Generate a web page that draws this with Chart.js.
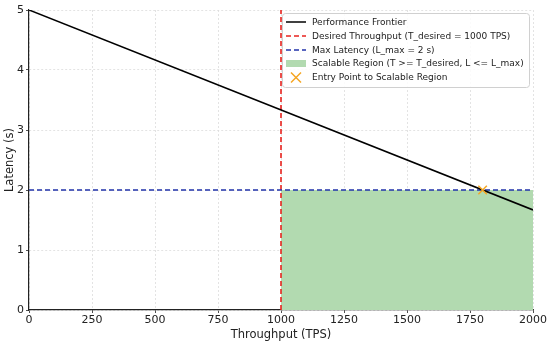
<!DOCTYPE html>
<html>
<head>
<meta charset="utf-8">
<script src="https://cdn.jsdelivr.net/npm/chart.js@4"></script>
<style>
  html, body { margin: 0; padding: 0; background: #fff; }
  #wrap { width: 550px; height: 342px; }
</style>
</head>
<body>
<div id="wrap"><canvas id="chart" width="550" height="342"></canvas></div>
<script>
// data
const frontierX = [0, 2000];
const frontierY = [5, 1.667];
const desiredThroughput = 1000;
const maxLatency = 2;
const entryPoint = [1800, 2];
const xTicks = [0, 250, 500, 750, 1000, 1250, 1500, 1750, 2000];
const yTicks = [0, 1, 2, 3, 4, 5];

const labels = [
    "Performance Frontier",
    "Desired Throughput (T_desired = 1000 TPS)",
    "Max Latency (L_max = 2 s)",
    "Scalable Region (T >= T_desired, L <= L_max)",
    "Entry Point to Scalable Region"
];

const FONT = "'DejaVu Sans', sans-serif";
Chart.defaults.font.family = FONT;
Chart.defaults.color = '#222';

// legend drawn inside the plot, top right
const boxLegend = {
    id: 'boxLegend',
    afterDraw(chart) {
        const ctx = chart.ctx;
        const x0 = 282, y0 = 13, w = 247, h = 74;
        ctx.save();
        ctx.fillStyle = 'rgba(255,255,255,0.85)';
        ctx.strokeStyle = '#d0d0d0';
        ctx.lineWidth = 1;
        ctx.beginPath();
        ctx.roundRect(x0 + 0.5, y0 + 0.5, w, h, 3);
        ctx.fill();
        ctx.stroke();
        ctx.font = '9px ' + FONT;
        ctx.textBaseline = 'middle';
        const rows = [22, 36, 50, 63.5, 77.5];
        chart.data.datasets.forEach((ds, i) => {
            const y = rows[i];
            ctx.setLineDash([]);
            if (ds.legendKind === 'line') {
                ctx.strokeStyle = ds.borderColor;
                ctx.lineWidth = 1.5;
                ctx.setLineDash(ds.borderDash || []);
                ctx.beginPath();
                ctx.moveTo(286, y);
                ctx.lineTo(306, y);
                ctx.stroke();
            } else if (ds.legendKind === 'patch') {
                ctx.fillStyle = ds.backgroundColor;
                ctx.fillRect(286, y - 3.5, 20, 7);
            } else {
                ctx.strokeStyle = ds.pointBorderColor;
                ctx.lineWidth = 1.5;
                ctx.beginPath();
                ctx.moveTo(291, y - 5); ctx.lineTo(301, y + 5);
                ctx.moveTo(301, y - 5); ctx.lineTo(291, y + 5);
                ctx.stroke();
            }
            ctx.fillStyle = '#222';
            ctx.fillText(ds.label, 312, y + 0.5);
        });
        ctx.restore();
    }
};

const data = {
    datasets: [
        {
            label: labels[0],
            legendKind: 'line',
            data: frontierX.map((x, i) => ({ x: x, y: frontierY[i] })),
            borderColor: '#000',
            borderWidth: 1.6,
            pointRadius: 0,
            showLine: true,
            order: 1
        },
        {
            label: labels[1],
            legendKind: 'line',
            data: [{ x: desiredThroughput, y: 0 }, { x: desiredThroughput, y: 5 }],
            borderColor: '#e8231f',
            borderWidth: 1.6,
            borderDash: [5, 3],
            pointRadius: 0,
            showLine: true,
            order: 3
        },
        {
            label: labels[2],
            legendKind: 'line',
            data: [{ x: 0, y: maxLatency }, { x: 2000, y: maxLatency }],
            borderColor: '#2233aa',
            borderWidth: 1.6,
            borderDash: [5, 3],
            pointRadius: 0,
            showLine: true,
            order: 2
        },
        {
            label: labels[3],
            legendKind: 'patch',
            data: [{ x: desiredThroughput, y: maxLatency }, { x: 2000, y: maxLatency }],
            backgroundColor: 'rgb(178,218,176)',
            borderWidth: 0,
            pointRadius: 0,
            showLine: true,
            fill: 'origin',
            order: 4
        },
        {
            label: labels[4],
            legendKind: 'marker',
            data: [{ x: entryPoint[0], y: entryPoint[1] }],
            pointStyle: 'crossRot',
            pointRadius: 6,
            pointBorderWidth: 1.5,
            pointBorderColor: '#f5a623',
            borderColor: '#f5a623',
            showLine: false,
            order: 0
        }
    ]
};

new Chart(document.getElementById('chart'), {
    type: 'scatter',
    data: data,
    plugins: [boxLegend],
    options: {
        responsive: false,
        animation: false,
        layout: { padding: { top: 10, right: 17, left: 3, bottom: 0 } },
        plugins: {
            legend: { display: false },
            tooltip: { enabled: false }
        },
        scales: {
            x: {
                type: 'linear',
                min: 0,
                max: 2000,
                afterBuildTicks: s => { s.ticks = xTicks.map(v => ({ value: v })); },
                afterFit: s => { s.height = 32; },
                ticks: { font: { size: 11 }, padding: 1, maxRotation: 0, callback: v => String(v) },
                grid: {
                    color: '#dcdcdc',
                    tickColor: '#222',
                    tickLength: 3,
                    lineWidth: 0.8
                },
                border: { color: '#222', width: 1.2, dash: [2, 2] },
                title: { display: true, text: 'Throughput (TPS)', font: { size: 11.5 }, padding: { top: 0, bottom: 0 } }
            },
            y: {
                type: 'linear',
                min: 0,
                max: 5,
                afterBuildTicks: s => { s.ticks = yTicks.map(v => ({ value: v })); },
                afterFit: s => { s.width = 26; },
                ticks: { font: { size: 11 }, padding: 2, callback: v => String(v) },
                grid: {
                    color: '#dcdcdc',
                    tickColor: '#222',
                    tickLength: 3,
                    lineWidth: 0.8
                },
                border: { color: '#222', width: 1.2, dash: [2, 2] },
                title: { display: true, text: 'Latency (s)', font: { size: 11.5 }, padding: { top: 0, bottom: 2 } }
            }
        }
    }
});
</script>
</body>
</html>
